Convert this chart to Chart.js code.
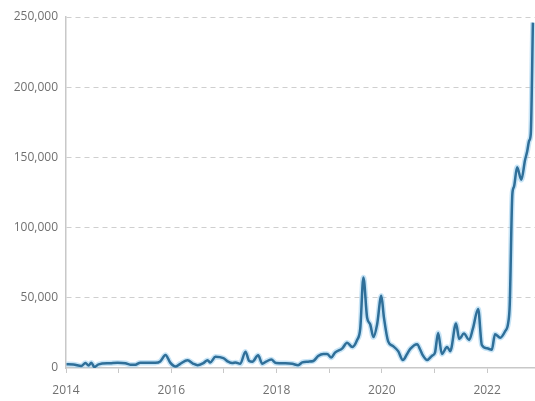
<!DOCTYPE html>
<html>
<head>
<meta charset="utf-8">
<script src="https://cdn.jsdelivr.net/npm/chart.js@4/dist/chart.umd.min.js"></script>
<style>
  html, body { margin: 0; padding: 0; background: #fff; }
  #wrap { width: 535px; height: 401px; }
</style>
</head>
<body>
<div id="wrap"><canvas id="trendChart"></canvas></div>
<script>
// x positions as decimal years, values in thousands
const dates = [
  2014.01, 2014.14, 2014.29, 2014.37, 2014.43, 2014.48, 2014.54, 2014.62, 2014.84, 2014.98,
  2015.13, 2015.22, 2015.32, 2015.41, 2015.70, 2015.79, 2015.89, 2015.98,
  2016.08, 2016.17, 2016.31, 2016.42, 2016.50, 2016.61, 2016.69, 2016.74, 2016.84, 2016.99,
  2017.08, 2017.16, 2017.22, 2017.31, 2017.41, 2017.48, 2017.54, 2017.65, 2017.73, 2017.80, 2017.90, 2017.99,
  2018.17, 2018.30, 2018.41, 2018.49, 2018.60, 2018.70, 2018.79, 2018.89, 2018.96,
  2019.04, 2019.11, 2019.25, 2019.34, 2019.44, 2019.53, 2019.59, 2019.65, 2019.72, 2019.78, 2019.84, 2019.91, 2019.99,
  2020.04, 2020.12, 2020.21, 2020.31, 2020.40, 2020.48, 2020.54, 2020.67, 2020.73, 2020.78, 2020.86, 2020.95,
  2021.01, 2021.07, 2021.14, 2021.24, 2021.30, 2021.41, 2021.47, 2021.56, 2021.66, 2021.73, 2021.83, 2021.90,
  2022.00, 2022.09, 2022.15, 2022.25, 2022.34, 2022.40, 2022.43, 2022.48, 2022.51, 2022.57, 2022.65,
  2022.72, 2022.76, 2022.80, 2022.83, 2022.87
];
const valuesK = [
  2.6, 2.5, 1.4, 3.6, 1.8, 3.8, 0.7, 2.6, 3.4, 3.8,
  3.4, 2.4, 2.4, 3.8, 3.8, 4.7, 9.3, 3.8,
  1, 3, 5.5, 3, 2, 3.5, 5.5, 4, 8, 7,
  4.5, 3.5, 4, 3, 11.6, 5, 4.5, 9, 3, 4.5, 6, 3.5,
  3.3, 3, 2, 4, 4.5, 5, 8.5, 10, 10,
  7.5, 11, 14, 18, 15, 20, 28, 64.5, 36, 31, 22, 31, 51.4,
  36, 19, 15.7, 12, 5.7, 10, 13.6, 17, 13, 9, 5.7, 8.6,
  11, 25, 10, 15, 12, 31.7, 20.7, 24.5, 20, 28, 42, 16.4,
  14, 13, 24, 21.6, 26, 32, 45, 124, 129, 143, 134,
  148, 154, 162, 167, 246
];
const yTicks = [0, 50000, 100000, 150000, 200000, 250000];
const yearTicks = [2014, 2015, 2016, 2017, 2018, 2019, 2020, 2021, 2022];
const yearLabels = [2014, 2016, 2018, 2020, 2022];

const points = dates.map((d, i) => ({ x: d, y: valuesK[i] * 1000 }));

const ctx = document.getElementById("trendChart").getContext("2d");
new Chart(ctx, {
  type: "line",
  data: {
    datasets: [
      {
        data: points,
        borderColor: "#2f6f99",
        borderWidth: 2.5,
        pointRadius: 0,
        cubicInterpolationMode: "monotone",
        fill: false,
        order: 0,
      },
      {
        // soft halo under the line
        data: points,
        borderColor: "rgba(130, 195, 235, 0.45)",
        borderWidth: 5.5,
        pointRadius: 0,
        cubicInterpolationMode: "monotone",
        fill: false,
        order: 1,
      },
    ],
  },
  options: {
    responsive: true,
    maintainAspectRatio: false,
    animation: false,
    layout: { padding: { top: 17, right: 0, left: 0, bottom: 0 } },
    plugins: { legend: { display: false }, tooltip: { enabled: false } },
    scales: {
      x: {
        type: "linear",
        min: 2014,
        max: 2022.91,
        afterBuildTicks: (axis) => {
          axis.ticks = yearTicks.map((v) => ({ value: v }));
        },
        afterFit: (axis) => { axis.height = 33; },
        ticks: {
          autoSkip: false,
          maxRotation: 0,
          padding: 10,
          color: "#707070",
          font: { size: 12, family: "Open Sans" },
          callback: (v) => (yearLabels.includes(v) ? String(v) : ""),
        },
        grid: {
          drawOnChartArea: false,
          drawTicks: true,
          tickLength: 5,
          color: "#c8c8c8",
        },
        border: { color: "#c8c8c8", width: 1.5 },
      },
      y: {
        min: 0,
        max: 250000,
        afterBuildTicks: (axis) => {
          axis.ticks = yTicks.map((v) => ({ value: v }));
        },
        afterFit: (axis) => { axis.width = 66; },
        ticks: {
          padding: 8,
          color: "#707070",
          font: { size: 12, family: "Open Sans" },
          callback: (v) => v.toLocaleString("en-US"),
        },
        grid: {
          drawTicks: false,
          color: (c) => (c.tick.value === 0 ? "rgba(0,0,0,0)" : "#cfcfcf"),
          lineWidth: 1,
        },
        border: { color: "#c8c8c8", width: 1.5, dash: [5, 4] },
      },
    },
  },
});
</script>
</body>
</html>
